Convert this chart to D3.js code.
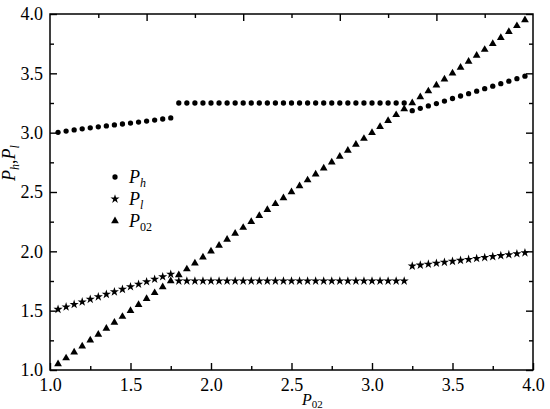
<!DOCTYPE html>
<html>
<head>
<meta charset="utf-8">
<script src="https://cdn.jsdelivr.net/npm/d3@7"></script>
<style>
  body { margin: 0; background: #fff; }
</style>
</head>
<body>
<script>
// values
const xValues = [1.05, 1.10, 1.15, 1.20, 1.25, 1.30, 1.35, 1.40, 1.45, 1.50, 1.55, 1.60, 1.65, 1.70, 1.75,
	1.80, 1.85, 1.90, 1.95, 2.00, 2.05, 2.10, 2.15, 2.20, 2.25, 2.30, 2.35, 2.40, 2.45, 2.50,
	2.55, 2.60, 2.65, 2.70, 2.75, 2.80, 2.85, 2.90, 2.95, 3.00, 3.05, 3.10, 3.15, 3.20,
	3.25, 3.30, 3.35, 3.40, 3.45, 3.50, 3.55, 3.60, 3.65, 3.70, 3.75, 3.80, 3.85, 3.90, 3.95];

const ph = [3.003, 3.013, 3.023, 3.032, 3.041, 3.049, 3.057, 3.065, 3.073, 3.081, 3.089, 3.098, 3.106, 3.115, 3.124,
	3.25, 3.25, 3.25, 3.25, 3.25, 3.25, 3.25, 3.25, 3.25, 3.25, 3.25, 3.25, 3.25, 3.25, 3.25,
	3.25, 3.25, 3.25, 3.25, 3.25, 3.25, 3.25, 3.25, 3.25, 3.25, 3.25, 3.25, 3.25, 3.25,
	3.185, 3.205, 3.225, 3.245, 3.266, 3.288, 3.309, 3.329, 3.350, 3.371, 3.392, 3.413, 3.434, 3.455, 3.476];

const pl = [1.511, 1.532, 1.553, 1.574, 1.596, 1.617, 1.638, 1.659, 1.680, 1.702, 1.723, 1.744, 1.765, 1.786, 1.807,
	1.75, 1.75, 1.75, 1.75, 1.75, 1.75, 1.75, 1.75, 1.75, 1.75, 1.75, 1.75, 1.75, 1.75, 1.75,
	1.75, 1.75, 1.75, 1.75, 1.75, 1.75, 1.75, 1.75, 1.75, 1.75, 1.75, 1.75, 1.75, 1.75,
	1.876, 1.884, 1.892, 1.900, 1.908, 1.916, 1.924, 1.932, 1.940, 1.948, 1.956, 1.964, 1.972, 1.980, 1.988];

const p02 = [1.05, 1.10, 1.15, 1.20, 1.25, 1.30, 1.35, 1.40, 1.45, 1.50, 1.55, 1.60, 1.65, 1.70, 1.75,
	1.80, 1.85, 1.90, 1.95, 2.00, 2.05, 2.10, 2.15, 2.20, 2.25, 2.30, 2.35, 2.40, 2.45, 2.50,
	2.55, 2.60, 2.65, 2.70, 2.75, 2.80, 2.85, 2.90, 2.95, 3.00, 3.05, 3.10, 3.15, 3.20,
	3.25, 3.30, 3.35, 3.40, 3.45, 3.50, 3.55, 3.60, 3.65, 3.70, 3.75, 3.80, 3.85, 3.90, 3.95];

const majorTicks = [1.0, 1.5, 2.0, 2.5, 3.0, 3.5, 4.0];
const minorTicks = [1.25, 1.75, 2.25, 2.75, 3.25, 3.75];
// the top axis of the original has its own odd spacing
const topMajor = [1.6, 2.2, 2.8, 3.4];
const topMinor = [1.3, 1.9, 2.5, 3.1, 3.7];

const width = 550, height = 409;
const mLeft = 50, mRight = 533, mTop = 14, mBottom = 370;
const serif = "'Liberation Serif', 'Times New Roman', Times, serif";

const svg = d3.select("body").append("svg")
	.attr("width", width)
	.attr("height", height)
	.style("font-family", serif);

const x = d3.scaleLinear().domain([1, 4]).range([mLeft, mRight]);
const y = d3.scaleLinear().domain([1, 4]).range([mBottom, mTop]);

const fmt = d3.format(".1f");

function styleAxis(g) {
	g.attr("font-family", null).attr("font-size", null);
	g.select(".domain").remove();
	g.selectAll("line").attr("stroke", "#000").attr("stroke-width", 1.4);
	g.selectAll("text")
		.style("font-family", serif)
		.style("font-size", "18px")
		.attr("fill", "#000");
}

// bottom
svg.append("g").attr("transform", `translate(0,${mBottom})`)
	.call(d3.axisBottom(x).tickValues(majorTicks).tickFormat(fmt).tickSize(-7).tickPadding(8))
	.call(styleAxis);
svg.append("g").attr("transform", `translate(0,${mBottom})`)
	.call(d3.axisBottom(x).tickValues(minorTicks).tickFormat("").tickSize(-4))
	.call(styleAxis);
// left
svg.append("g").attr("transform", `translate(${mLeft},0)`)
	.call(d3.axisLeft(y).tickValues(majorTicks).tickFormat(fmt).tickSize(-7).tickPadding(7))
	.call(styleAxis);
svg.append("g").attr("transform", `translate(${mLeft},0)`)
	.call(d3.axisLeft(y).tickValues(minorTicks).tickFormat("").tickSize(-4))
	.call(styleAxis);
// right
svg.append("g").attr("transform", `translate(${mRight},0)`)
	.call(d3.axisRight(y).tickValues(majorTicks).tickFormat("").tickSize(-7))
	.call(styleAxis);
svg.append("g").attr("transform", `translate(${mRight},0)`)
	.call(d3.axisRight(y).tickValues(minorTicks).tickFormat("").tickSize(-4))
	.call(styleAxis);
// top
svg.append("g").attr("transform", `translate(0,${mTop})`)
	.call(d3.axisTop(x).tickValues(topMajor).tickFormat("").tickSize(-7))
	.call(styleAxis);
svg.append("g").attr("transform", `translate(0,${mTop})`)
	.call(d3.axisTop(x).tickValues(topMinor).tickFormat("").tickSize(-4))
	.call(styleAxis);

// frame
svg.append("rect")
	.attr("x", mLeft).attr("y", mTop)
	.attr("width", mRight - mLeft).attr("height", mBottom - mTop)
	.attr("fill", "none").attr("stroke", "#000").attr("stroke-width", 1.5);

const series = [
	{ name: "h", values: ph, symbol: d3.symbolCircle, size: 22 },
	{ name: "l", values: pl, symbol: d3.symbolStar, size: 26 },
	{ name: "02", values: p02, symbol: d3.symbolTriangle, size: 26 }
];

series.forEach(s => {
	svg.append("g").selectAll("path")
		.data(xValues.map((v, i) => [v, s.values[i]]))
		.join("path")
		.attr("transform", d => `translate(${x(d[0])},${y(d[1])})`)
		.attr("d", d3.symbol().type(s.symbol).size(s.size))
		.attr("fill", "#000");
});

// legend
const legend = svg.append("g");
series.forEach((s, i) => {
	const ly = 177 + i * 22;
	legend.append("path")
		.attr("transform", `translate(115,${ly})`)
		.attr("d", d3.symbol().type(s.symbol).size(s.size))
		.attr("fill", "#000");
	const t = legend.append("text")
		.attr("x", 129).attr("y", ly + 6)
		.style("font-size", "18px");
	t.append("tspan").text("P").style("font-style", "italic");
	t.append("tspan").text(s.name)
		.style("font-size", "12px")
		.style("font-style", s.name === "02" ? "normal" : "italic")
		.attr("dy", 4);
});

// axis titles
const xt = svg.append("text")
	.attr("x", 302).attr("y", 405)
	.style("font-size", "16px");
xt.append("tspan").text("P").style("font-style", "italic");
xt.append("tspan").text("02").style("font-size", "11px").attr("dy", 3);

const yt = svg.append("text")
	.attr("transform", "translate(15,181) rotate(-90)")
	.style("font-size", "18px");
yt.append("tspan").text("P").style("font-style", "italic");
yt.append("tspan").text("h").style("font-size", "12px").style("font-style", "italic").attr("dy", 4);
yt.append("tspan").text(",").attr("dy", -4);
yt.append("tspan").text("P").style("font-style", "italic");
yt.append("tspan").text("l").style("font-size", "12px").style("font-style", "italic").attr("dy", 4);
</script>
</body>
</html>
